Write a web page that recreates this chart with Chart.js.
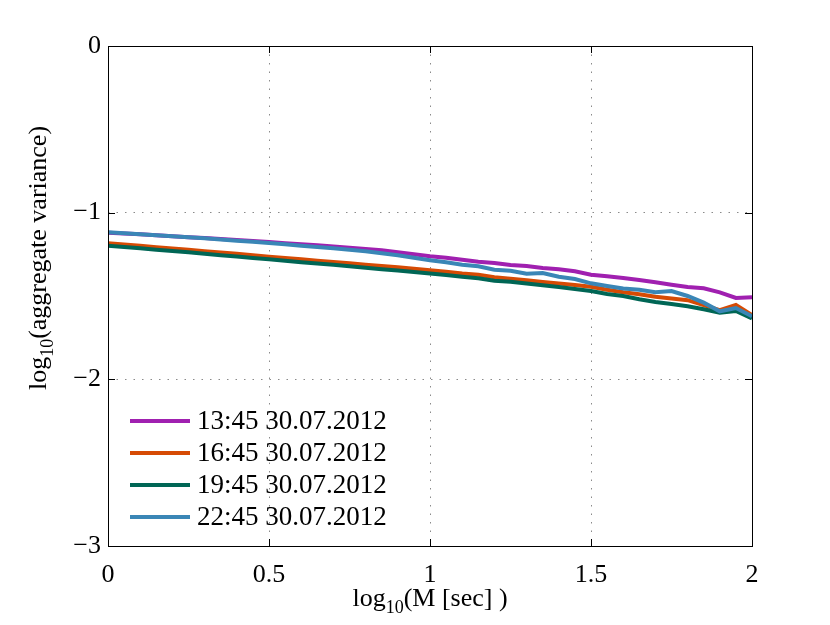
<!DOCTYPE html>
<html>
<head>
<meta charset="utf-8">
<script src="https://cdn.jsdelivr.net/npm/chart.js@4.4.1/dist/chart.umd.min.js"></script>
<style>
  html, body { margin: 0; padding: 0; background: #fff; }
  #wrap { width: 830px; height: 625px; }
</style>
</head>
<body>
<div id="wrap"><canvas id="grafico" width="830" height="625"></canvas></div>
<script>
/* ==========================================================================
   DATOS
   ========================================================================== */
const logM = [0, 0.05, 0.1, 0.15, 0.2, 0.25, 0.3, 0.35, 0.4, 0.45,
              0.5, 0.55, 0.6, 0.65, 0.7, 0.75, 0.8, 0.85, 0.9, 0.95,
              1.0, 1.05, 1.1, 1.15, 1.2, 1.25, 1.3, 1.35, 1.4, 1.45,
              1.5, 1.55, 1.6, 1.65, 1.7, 1.75, 1.8, 1.85, 1.9, 1.95, 2.0];

const var1345 = [-1.120, -1.125, -1.130, -1.135, -1.141, -1.147, -1.152, -1.158, -1.164, -1.170,
                 -1.176, -1.183, -1.190, -1.196, -1.203, -1.210, -1.218, -1.226, -1.238, -1.250,
                 -1.262, -1.270, -1.283, -1.295, -1.302, -1.314, -1.320, -1.332, -1.340, -1.352,
                 -1.372, -1.382, -1.392, -1.404, -1.418, -1.432, -1.446, -1.454, -1.478, -1.512, -1.508];

const var1645 = [-1.184, -1.191, -1.199, -1.207, -1.215, -1.223, -1.231, -1.239, -1.247, -1.256,
                 -1.264, -1.272, -1.280, -1.288, -1.296, -1.304, -1.312, -1.320, -1.328, -1.337,
                 -1.345, -1.354, -1.365, -1.373, -1.388, -1.396, -1.405, -1.416, -1.425, -1.434,
                 -1.444, -1.462, -1.478, -1.490, -1.505, -1.515, -1.525, -1.555, -1.585, -1.554, -1.615];

const var1945 = [-1.198, -1.206, -1.214, -1.222, -1.230, -1.238, -1.247, -1.255, -1.263, -1.272,
                 -1.280, -1.288, -1.297, -1.305, -1.313, -1.322, -1.330, -1.339, -1.347, -1.356,
                 -1.365, -1.374, -1.384, -1.394, -1.408, -1.415, -1.425, -1.436, -1.446, -1.458,
                 -1.470, -1.488, -1.500, -1.520, -1.536, -1.548, -1.562, -1.580, -1.600, -1.590, -1.635];

const var2245 = [-1.118, -1.123, -1.129, -1.135, -1.141, -1.148, -1.154, -1.161, -1.168, -1.175,
                 -1.182, -1.190, -1.198, -1.206, -1.214, -1.222, -1.232, -1.244, -1.255, -1.270,
                 -1.285, -1.298, -1.312, -1.322, -1.342, -1.348, -1.366, -1.362, -1.384, -1.398,
                 -1.424, -1.440, -1.455, -1.462, -1.478, -1.470, -1.500, -1.540, -1.592, -1.572, -1.622];

const etiquetas = ['13:45 30.07.2012', '16:45 30.07.2012', '19:45 30.07.2012', '22:45 30.07.2012'];
const colores = ['#a020b0', '#d64b04', '#006655', '#3a86b6'];
const xTicks = [0, 0.5, 1, 1.5, 2];
const yTicks = [-3, -2, -1, 0];

const FUENTE = "'Liberation Serif', 'Times New Roman', serif";

/* ==========================================================================
   PLUGIN: marco, ticks internos, leyenda y títulos con subíndice
   ========================================================================== */
const marco = {
    id: 'marco',
    afterDraw(chart) {
        const { ctx, chartArea: a, scales: { x, y } } = chart;
        ctx.save();

        // Caja
        ctx.strokeStyle = '#000';
        ctx.lineWidth = 1;
        ctx.setLineDash([]);
        ctx.strokeRect(Math.round(a.left) + 0.5, Math.round(a.top) + 0.5,
                       Math.round(a.right - a.left), Math.round(a.bottom - a.top));

        // Ticks hacia adentro
        const tl = 7;
        ctx.beginPath();
        xTicks.slice(1, -1).forEach(v => {
            const px = Math.round(x.getPixelForValue(v)) + 0.5;
            ctx.moveTo(px, a.bottom); ctx.lineTo(px, a.bottom - tl);
            ctx.moveTo(px, a.top); ctx.lineTo(px, a.top + tl);
        });
        yTicks.slice(1, -1).forEach(v => {
            const py = Math.round(y.getPixelForValue(v)) + 0.5;
            ctx.moveTo(a.left, py); ctx.lineTo(a.left + tl, py);
            ctx.moveTo(a.right, py); ctx.lineTo(a.right - tl, py);
        });
        ctx.stroke();

        // Leyenda dentro del área
        const filas = [421, 453, 485, 517];
        chart.data.datasets.forEach((ds, i) => {
            const yy = filas[i];
            ctx.strokeStyle = ds.borderColor;
            ctx.lineWidth = 4;
            ctx.beginPath();
            ctx.moveTo(130, yy); ctx.lineTo(190, yy);
            ctx.stroke();
            ctx.fillStyle = '#000';
            ctx.font = `27px ${FUENTE}`;
            ctx.textAlign = 'left';
            ctx.textBaseline = 'middle';
            ctx.fillText(ds.label, 197, yy + 1);
        });

        // Títulos de ejes: "log" + subíndice "10" + resto
        const tituloLog = (resto, cx, cy, rot) => {
            ctx.save();
            ctx.translate(cx, cy);
            if (rot) ctx.rotate(-Math.PI / 2);
            ctx.fillStyle = '#000';
            ctx.textBaseline = 'alphabetic';
            ctx.textAlign = 'left';
            ctx.font = `26px ${FUENTE}`;
            const wLog = ctx.measureText('log').width;
            const wResto = ctx.measureText(resto).width;
            ctx.font = `18px ${FUENTE}`;
            const wSub = ctx.measureText('10').width;
            let x0 = -(wLog + wSub + wResto) / 2;
            ctx.font = `26px ${FUENTE}`;
            ctx.fillText('log', x0, 0);
            x0 += wLog;
            ctx.font = `18px ${FUENTE}`;
            ctx.fillText('10', x0, 7);
            x0 += wSub;
            ctx.font = `26px ${FUENTE}`;
            ctx.fillText(resto, x0, 0);
            ctx.restore();
        };
        tituloLog('(M [sec] )', 430, 606, false);
        tituloLog('(aggregate variance)', 46, 258, true);

        ctx.restore();
    }
};

/* ==========================================================================
   GRÁFICO
   ========================================================================== */
const series = [var1345, var1645, var1945, var2245];
const ctx = document.getElementById('grafico').getContext('2d');

new Chart(ctx, {
    type: 'line',
    data: {
        datasets: series.map((vals, i) => ({
            label: etiquetas[i],
            data: vals.map((v, k) => ({ x: logM[k], y: v })),
            borderColor: colores[i],
            backgroundColor: colores[i],
            borderWidth: 4,
            pointRadius: 0,
            tension: 0,
            fill: false,
            order: 4 - i
        }))
    },
    options: {
        responsive: false,
        animation: false,
        layout: { padding: { left: 48, right: 78, top: 46, bottom: 19 } },
        plugins: {
            legend: { display: false },
            tooltip: { enabled: false }
        },
        scales: {
            x: {
                type: 'linear',
                min: 0, max: 2,
                afterBuildTicks: s => { s.ticks = xTicks.map(v => ({ value: v })); },
                afterFit: s => { s.height = 60; },
                ticks: {
                    autoSkip: false, maxRotation: 0,
                    padding: 14,
                    color: '#000',
                    font: { family: FUENTE, size: 26 },
                    callback: v => String(v)
                },
                grid: { color: '#8a8a8a', lineWidth: 1, drawTicks: false },
                border: { display: false, dash: [1.5, 7] }
            },
            y: {
                type: 'linear',
                min: -3, max: 0,
                afterBuildTicks: s => { s.ticks = yTicks.map(v => ({ value: v })); },
                afterFit: s => { s.width = 60; },
                ticks: {
                    autoSkip: false,
                    padding: 7,
                    color: '#000',
                    font: { family: FUENTE, size: 26 },
                    callback: v => v < 0 ? '\u2212' + Math.abs(v) : String(v)
                },
                grid: { color: '#8a8a8a', lineWidth: 1, drawTicks: false },
                border: { display: false, dash: [1.5, 7] }
            }
        }
    },
    plugins: [marco]
});
</script>
</body>
</html>
